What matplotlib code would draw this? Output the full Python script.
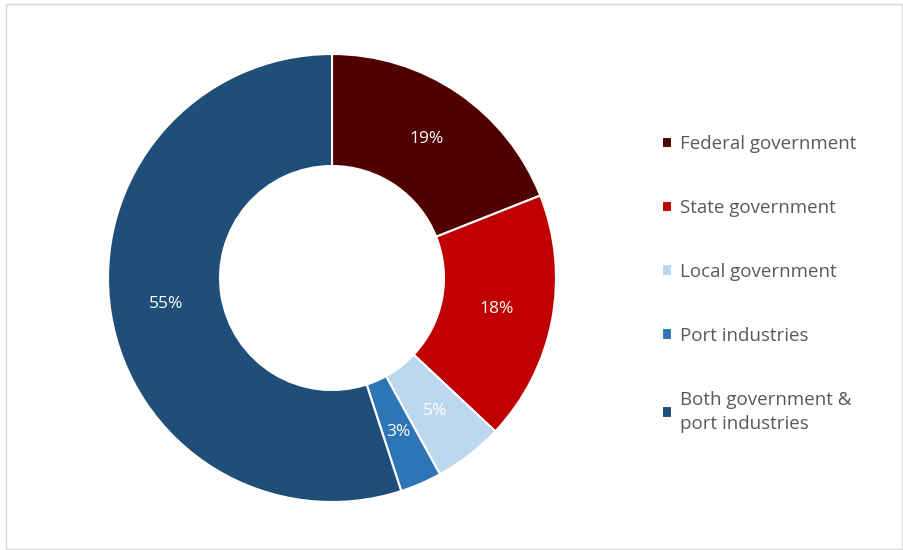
import matplotlib.pyplot as plt
from matplotlib.patches import Rectangle

# Data
LABELS = ["Federal government", "State government", "Local government",
          "Port industries", "Both government &\nport industries"]
SHARES = [19, 18, 5, 3, 55]
COLORS = ["#500000", "#C00000", "#BDD7EE", "#2E75B6", "#1F4E79"]

plt.rcParams['font.family'] = ['Open Sans', 'DejaVu Sans']

fig = plt.figure(figsize=(9.04, 5.5), dpi=100)

# light frame round the chart area
fig.patches.append(Rectangle((6 / 904, 0.002), 896 / 904, 1 - 4 / 550 - 0.002,
                             transform=fig.transFigure, fill=False,
                             edgecolor="#D9D9D9", linewidth=1))

ax = fig.add_axes([108 / 904, 48 / 550, 448 / 904, 448 / 550])
wedges, texts, autotexts = ax.pie(
    SHARES, colors=COLORS, startangle=90, counterclock=False, radius=1,
    autopct='%d%%', pctdistance=0.75,
    wedgeprops=dict(width=0.5, edgecolor='white', linewidth=1.5),
    textprops=dict(color='white', fontsize=12.5))
ax.set_xlim(-1, 1)
ax.set_ylim(-1, 1)
ax.set_aspect('equal')

leg = fig.legend(wedges, LABELS, loc='upper left',
                 bbox_to_anchor=(645 / 904, 1 - 118 / 550),
                 frameon=False, fontsize=13.5, labelcolor='#595959',
                 handlelength=0.55, handleheight=0.55, handletextpad=0.4,
                 labelspacing=2.45)
for t in leg.get_texts():
    t.set_linespacing(1.45)

fig.savefig("out.png", dpi=100)
